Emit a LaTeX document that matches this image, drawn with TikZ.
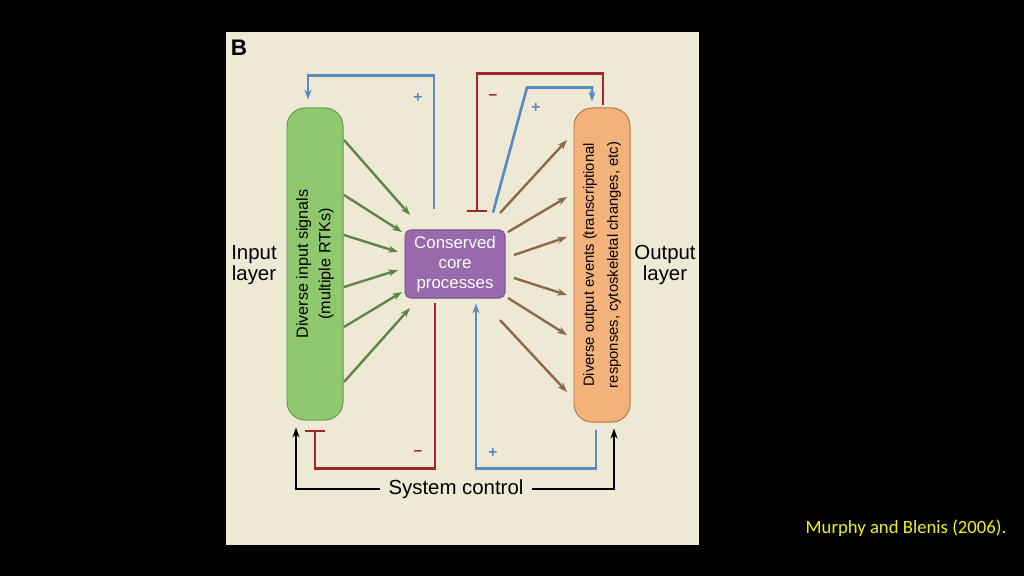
\documentclass[tikz,border=0pt]{standalone}
\usepackage{fontspec}
\setmainfont{Liberation Sans}
\newfontfamily\citefont{Carlito}
\usetikzlibrary{arrows.meta,positioning}

\definecolor{panel}{RGB}{237,233,213}
\definecolor{ingreen}{RGB}{143,200,110}
\definecolor{ingreendark}{RGB}{105,150,80}
\definecolor{greenarrow}{RGB}{95,132,72}
\definecolor{outorange}{RGB}{242,178,122}
\definecolor{outorangedark}{RGB}{175,120,75}
\definecolor{brownarrow}{RGB}{140,105,72}
\definecolor{corepurple}{RGB}{152,106,172}
\definecolor{corepurpledark}{RGB}{118,80,138}
\definecolor{plusblue}{RGB}{88,140,190}
\definecolor{minusred}{RGB}{158,38,44}
\definecolor{citeyellow}{RGB}{240,240,40}

\begin{document}
\begin{tikzpicture}[x=0.025cm, y=-0.025cm, line width=1.9pt, >={Stealth[length=7pt,width=5pt]}]
    \tikzstyle{layer}=[rounded corners=13pt, line width=0.7pt, minimum width=1.4cm, minimum height=7.8cm]
    \tikzstyle{input layer}=[layer, fill=ingreen, draw=ingreendark]
    \tikzstyle{output layer}=[layer, fill=outorange, draw=outorangedark, minimum height=7.85cm]
    \tikzstyle{core}=[rounded corners=4pt, fill=corepurple, draw=corepurpledark, line width=0.7pt, minimum width=2.5cm, minimum height=1.7cm]
    \tikzstyle{bar text}=[rotate=90, align=center, font=\fontsize{11.5}{16}\selectfont]
    \tikzstyle{side text}=[align=center, font=\fontsize{14.5}{13.5}\selectfont]
    \tikzstyle{in arrow}=[->, greenarrow, line width=1.7pt]
    \tikzstyle{out arrow}=[->, brownarrow, line width=1.7pt]
    \tikzstyle{plus line}=[plusblue, ->]
    \tikzstyle{minus line}=[minusred, -{Bar[width=14pt,line width=1.9pt]}]
    \tikzstyle{sign}=[font=\bfseries\fontsize{11}{11}\selectfont, inner sep=1pt]
    \tikzstyle{control}=[black, ->]

    % Frame
    \fill[black] (0,0) rectangle (1024,576);
    \useasboundingbox (0,0) rectangle (1024,576);
    \fill[panel] (226,32) rectangle (699,545);
    \node[font=\bfseries\fontsize{16}{16}\selectfont] (label-B) at (239,48) {B};

    % Input layer
    \node[input layer] (in) at (315,264) {};
    \node[bar text] (in-text) at (in) {Diverse input signals\\(multiple RTKs)};
    \node[side text] (in-label) at (254,265) {Input\\layer};

    % Core
    \node[core] (core) at (455,264) {};
    \node[align=center, text=white, font=\fontsize{12}{14}\selectfont] (core-text) at (core) {Conserved\\core\\processes};

    % Output layer
    \node[output layer] (out) at (602,265) {};
    \node[bar text, font=\fontsize{10.5}{17}\selectfont] (out-text) at (out) {Diverse output events (transcriptional\\responses, cytoskeletal changes, etc)};
    \node[side text] (out-label) at (665,265) {Output\\layer};

    % Input layer to core
    \foreach \i/\ys/\xe/\ye in {1/140/410/215, 2/195/402/232, 3/235/398/252, 4/287/398/270, 5/327/402/292, 6/382/410/308} {
        \coordinate (gin-\i) at (344,\ys);
        \coordinate (gout-\i) at (\xe,\ye);
        \draw[in arrow] (gin-\i) -- (gout-\i);
    }

    % Core to output layer
    \foreach \i/\xs/\ys/\ye in {1/500/213/140, 2/508/232/197, 3/514/255/237, 4/514/278/295, 5/508/298/335, 6/500/320/392} {
        \coordinate (bin-\i) at (\xs,\ys);
        \coordinate (bout-\i) at (567,\ye);
        \draw[out arrow] (bin-\i) -- (bout-\i);
    }

    % Feedback loops
    \draw[plus line] ([shift={(-21,-20)}]core.north) -- ++(0,-134) -| ([shift={(-7,-8)}]in.north);
    \draw[minus line] ([shift={(1,-2)}]out.north) -- ++(0,-32) -| ([shift={(22,-17)}]core.north);
    \draw[plus line] ([shift={(38,-17)}]core.north) -- ++(34,-125) -| ([shift={(-10,-6)}]out.north);
    \draw[minus line] ([shift={(-20,4)}]core.south) -- ++(0,166) -| ([shift={(0,9)}]in.south);
    \draw[plus line] ([shift={(-6,7)}]out.south) -- ++(0,39) -| ([shift={(21,5)}]core.south);

    \node[sign, text=plusblue] (plus-1) at (418,98) {+};
    \node[sign, text=minusred] (minus-1) at (493,97) {--};
    \node[sign, text=plusblue] (plus-2) at (536,108) {+};
    \node[sign, text=minusred] (minus-2) at (418,453) {--};
    \node[sign, text=plusblue] (plus-3) at (493,453) {+};

    % System control
    \node[font=\fontsize{14.5}{14.5}\selectfont, inner sep=5pt] (sys) at (456,489) {System control};
    \draw[control] (sys.west) -| ([shift={(-19,7)}]in.south);
    \draw[control] (sys.east) -| ([shift={(12,6)}]out.south);

    % Citation
    \node[text=citeyellow, font=\citefont\fontsize{13.3}{13.3}\selectfont] (cite) at (906,528) {Murphy and Blenis (2006).};
\end{tikzpicture}
\end{document}
